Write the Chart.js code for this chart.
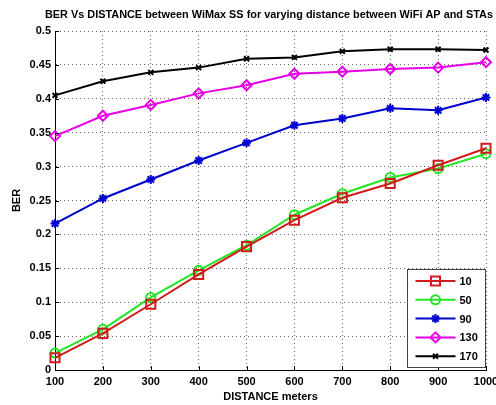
<!DOCTYPE html>
<html>
<head>
<meta charset="utf-8">
<script src="https://cdn.jsdelivr.net/npm/chart.js@4.4.1/dist/chart.umd.min.js"></script>
<style>
  html, body { margin: 0; padding: 0; background: #fff; }
  #wrap { width: 496px; height: 405px; }
</style>
</head>
<body>
<div id="wrap"><canvas id="berChart" width="496" height="405"></canvas></div>
<script>
// distance in meters
const distances = [100, 200, 300, 400, 500, 600, 700, 800, 900, 1000];

// BER per WiFi AP - STA distance
const ber10  = [0.018, 0.054, 0.097, 0.141, 0.182, 0.221, 0.254, 0.275, 0.302, 0.327];
const ber50  = [0.025, 0.060, 0.107, 0.147, 0.184, 0.229, 0.260, 0.284, 0.297, 0.319];
const ber90  = [0.216, 0.253, 0.281, 0.309, 0.335, 0.361, 0.371, 0.386, 0.383, 0.402];
const ber130 = [0.345, 0.375, 0.391, 0.408, 0.420, 0.437, 0.440, 0.444, 0.446, 0.454];
const ber170 = [0.405, 0.426, 0.439, 0.446, 0.459, 0.461, 0.470, 0.473, 0.473, 0.472];

const seriesNames = ['10', '50', '90', '130', '170'];
const yTicks = [0, 0.05, 0.1, 0.15, 0.2, 0.25, 0.3, 0.35, 0.4, 0.45, 0.5];

const titleText = 'BER Vs DISTANCE between WiMax SS for varying distance between WiFi AP and STAs';
const FONT = 'Liberation Sans, Arial, sans-serif';

function series(label, values, color, style, radius, filled) {
  return {
    label: label,
    data: values.map((v, i) => ({ x: distances[i], y: v })),
    borderColor: color,
    backgroundColor: color,
    borderWidth: 2,
    pointStyle: style,
    pointRadius: radius,
    pointHoverRadius: radius,
    pointBorderWidth: 2,
    pointBorderColor: color,
    pointBackgroundColor: filled ? color : 'rgba(0,0,0,0)',
    tension: 0,
    clip: false
  };
}

// title centred over the plot area rather than the whole canvas
const plotTitle = {
  id: 'plotTitle',
  afterDraw(chart) {
    const { ctx, chartArea } = chart;
    ctx.save();
    ctx.fillStyle = '#000';
    ctx.font = 'bold 11px ' + FONT;
    ctx.textAlign = 'center';
    ctx.textBaseline = 'middle';
    ctx.fillText(titleText, (chartArea.left + chartArea.right) / 2 - 1.5, chartArea.top - 16, 448);
    ctx.restore();
  }
};

// short solid ticks pointing into the plot
const innerTicks = {
  id: 'innerTicks',
  afterDatasetsDraw(chart) {
    const { ctx, chartArea, scales } = chart;
    ctx.save();
    ctx.strokeStyle = '#000';
    ctx.lineWidth = 1;
    ctx.beginPath();
    scales.x.ticks.forEach(t => {
      const px = Math.round(scales.x.getPixelForValue(t.value)) + 0.5;
      ctx.moveTo(px, chartArea.bottom);
      ctx.lineTo(px, chartArea.bottom - 4);
    });
    scales.y.ticks.forEach(t => {
      const py = Math.round(scales.y.getPixelForValue(t.value)) + 0.5;
      ctx.moveTo(chartArea.left, py);
      ctx.lineTo(chartArea.left + 4, py);
    });
    ctx.stroke();
    ctx.restore();
  }
};

// boxed legend in the lower right corner of the plot
const legendBox = {
  id: 'legendBox',
  afterDraw(chart) {
    const { ctx, chartArea } = chart;
    const w = 78, h = 98, rowH = 18.8;
    const x0 = Math.round(chartArea.right - w) - 0.5;
    const y0 = Math.round(chartArea.bottom - h - 3) + 0.5;
    ctx.save();
    ctx.fillStyle = '#fff';
    ctx.fillRect(x0, y0, w, h);
    ctx.strokeStyle = '#444';
    ctx.lineWidth = 1;
    ctx.strokeRect(x0, y0, w, h);
    chart.data.datasets.forEach((ds, i) => {
      const cy = y0 + 11.5 + i * rowH;
      ctx.strokeStyle = ds.borderColor;
      ctx.lineWidth = 2;
      ctx.beginPath();
      ctx.moveTo(x0 + 8, cy);
      ctx.lineTo(x0 + 48, cy);
      ctx.stroke();
      ctx.fillStyle = ds.pointBackgroundColor;
      Chart.helpers.drawPoint(ctx, {
        pointStyle: ds.pointStyle,
        radius: ds.pointRadius,
        borderWidth: ds.pointBorderWidth,
        rotation: 0
      }, x0 + 28, cy);
      ctx.fillStyle = '#000';
      ctx.font = 'bold 11px ' + FONT;
      ctx.textBaseline = 'middle';
      ctx.textAlign = 'left';
      ctx.fillText(ds.label, x0 + 52, cy + 1);
    });
    ctx.restore();
  }
};

new Chart(document.getElementById('berChart'), {
  type: 'line',
  data: {
    datasets: [
      series(seriesNames[0], ber10,  '#d01c1c', 'rect',     6.4, false),
      series(seriesNames[1], ber50,  '#22e622', 'circle',   4.5, false),
      series(seriesNames[2], ber90,  '#0000cc', 'star',     4.5, true),
      series(seriesNames[3], ber130, '#e600e6', 'rectRot',  5,   false),
      series(seriesNames[4], ber170, '#000000', 'crossRot', 3.5, false)
    ]
  },
  options: {
    responsive: false,
    devicePixelRatio: 1,
    animation: false,
    layout: { padding: { left: 0, right: 10, top: 31, bottom: 0 } },
    plugins: {
      legend: { display: false },
      tooltip: { enabled: false },
      title: { display: false }
    },
    scales: {
      x: {
        type: 'linear',
        min: distances[0],
        max: distances[distances.length - 1],
        afterBuildTicks: s => { s.ticks = distances.map(v => ({ value: v })); },
        ticks: {
          color: '#000',
          font: { family: FONT, size: 11, weight: 'bold' },
          padding: 5,
          maxRotation: 0,
          autoSkip: false,
          callback: v => String(v)
        },
        grid: { color: 'rgba(0,0,0,0.6)', drawTicks: false },
        border: { display: true, color: '#000', width: 1, dash: [1, 3] },
        title: {
          display: true,
          text: 'DISTANCE meters',
          color: '#000',
          font: { family: FONT, size: 11, weight: 'bold' },
          padding: { top: 0, bottom: 1 }
        },
        afterFit: s => {
          s.height = 35;
          s.paddingLeft = 0;
          s.paddingRight = 0;
        }
      },
      y: {
        min: 0,
        max: 0.5,
        afterBuildTicks: s => { s.ticks = yTicks.map(v => ({ value: v })); },
        ticks: {
          color: '#000',
          font: { family: FONT, size: 11, weight: 'bold' },
          padding: 4,
          autoSkip: false,
          callback: v => String(+v.toFixed(2))
        },
        grid: { color: 'rgba(0,0,0,0.6)', drawTicks: false },
        border: { display: true, color: '#000', width: 1, dash: [1, 3] },
        title: {
          display: true,
          text: 'BER',
          color: '#000',
          font: { family: FONT, size: 11, weight: 'bold' },
          padding: { top: 10, bottom: 0 }
        },
        afterFit: s => { s.width = 55; }
      }
    }
  },
  plugins: [innerTicks, legendBox, plotTitle]
});
</script>
</body>
</html>
